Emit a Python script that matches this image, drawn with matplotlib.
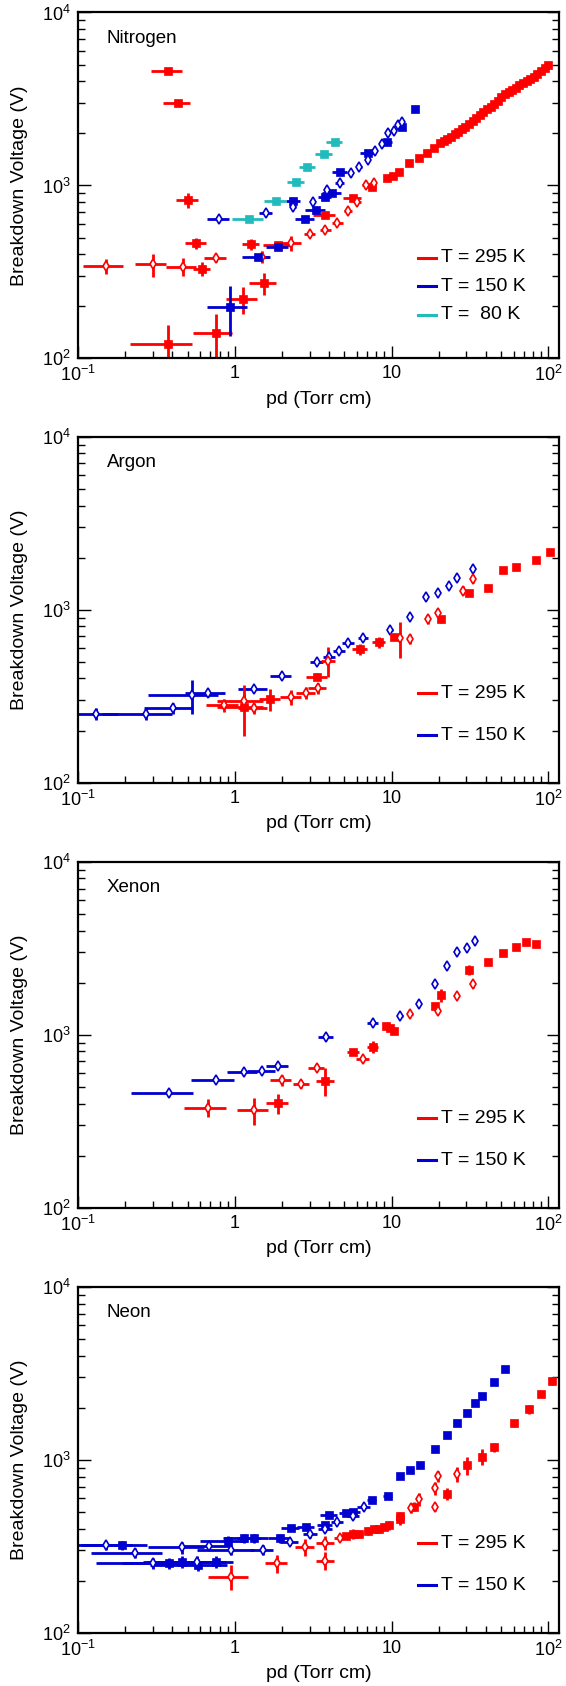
import matplotlib
matplotlib.use("Agg")
import matplotlib.pyplot as plt
from matplotlib.ticker import FixedLocator, FixedFormatter, LogLocator, NullFormatter

plt.rcParams["font.family"] = ["Liberation Sans", "DejaVu Sans"]
plt.rcParams["mathtext.fontset"] = "custom"
plt.rcParams["mathtext.rm"] = "Liberation Sans"
plt.rcParams["mathtext.it"] = "Liberation Sans:italic"
plt.rcParams["mathtext.default"] = "regular"

RED = "#ff0000"
BLUE = "#0000d0"
CYAN = "#22bbbb"

# ---------------- Nitrogen ----------------
n2_295_fill_x = [0.376, 0.435, 0.502, 0.568, 0.62, 0.376, 0.755, 1.136, 1.268, 1.527, 1.888, 3.76, 5.68, 7.48,
                 9.33, 10.2, 11.1, 13.0, 14.9, 16.8, 18.7, 20.4, 21.5, 22.7, 23.9, 25.3, 26.6, 28.1, 29.6,
                 31.2, 32.9, 34.7, 36.6, 38.6, 40.7, 42.9, 45.2, 47.7, 50.2, 53.0, 55.9, 58.9, 62.1,
                 65.5, 69.0, 72.8, 76.8, 80.9, 85.3, 89.9, 94.8, 100.0]
n2_295_fill_y = [4600, 3010, 824, 463, 330, 122, 141, 220, 457, 272, 453, 675, 843, 985,
                 1100, 1140, 1197, 1344, 1436, 1535, 1641, 1754, 1801, 1858, 1917, 1986, 2049, 2123, 2190,
                 2279, 2372, 2469, 2558, 2663, 2759, 2859, 2962, 3097, 3237, 3369, 3491, 3585, 3682,
                 3798, 3900, 4005, 4115, 4264, 4418, 4597, 4807, 4980]
n2_295_fill_ex = [0.085, 0.084, 0.08, 0.083, 0.08, 0.16, 0.21, 0.26, 0.15, 0.3, 0.38, 0.6, 0.75, 0.5,
                  0.4, 0.3, 0.4, 0.4, 0.4] + [0] * 33
n2_295_fill_ey = [40, 100, 80, 35, 30, 35, 40, 40, 35, 40, 15, 25, 35, 20] + [0] * 38

n2_295_open_x = [0.150, 0.299, 0.465, 0.759, 1.50, 2.29, 3.01, 3.79, 4.52, 5.30, 6.06, 6.90, 7.7]
n2_295_open_y = [342, 350, 339, 382, 387, 463, 521, 553, 604, 714, 806, 1002, 1030]
n2_295_open_ex = [0.043, 0.067, 0.1, 0.12, 0.15, 0.35, 0.25, 0.3, 0.35, 0.3, 0.3, 0.4, 0.3]
n2_295_open_ey = [33, 53, 40, 20, 30, 45, 20, 12, 12, 20, 40, 20, 25]

n2_150_fill_x = [0.933, 1.40, 1.888, 2.36, 2.81, 3.29, 3.76, 4.18, 4.69, 7.10, 9.33, 11.6, 14.1]
n2_150_fill_y = [199, 384, 443, 813, 640, 721, 861, 909, 1202, 1549, 1794, 2172, 2760]
n2_150_fill_ex = [0.27, 0.28, 0.3, 0.25, 0.4, 0.5, 0.35, 0.6, 0.5, 0.8, 0.7, 0.3, 0.4]
n2_150_fill_ey = [65, 15, 10, 10, 15, 15, 15, 15, 20, 20, 20, 30, 0]

n2_150_open_x = [0.793, 1.585, 2.36, 3.15, 3.9, 4.69, 5.50, 6.24, 7.10, 7.88, 8.67, 9.5, 10.3, 11.0, 11.7]
n2_150_open_y = [640, 697, 755, 806, 942, 1038, 1175, 1273, 1407, 1592, 1738, 2005, 2076, 2239, 2339]
n2_150_open_ex = [0.13, 0.15, 0.1, 0.1, 0.1, 0.3, 0.2, 0.2, 0.1, 0.1, 0.1, 0.1, 0.1, 0.1, 0.1]
n2_150_open_ey = [10, 15, 20, 25, 25, 20, 20, 20, 30, 20, 20, 20, 20, 20, 20]

n2_80_fill_x = [1.236, 1.836, 2.46, 2.91, 3.72, 4.33]
n2_80_fill_y = [640, 813, 1052, 1285, 1521, 1794]
n2_80_fill_ex = [0.28, 0.3, 0.3, 0.35, 0.45, 0.5]
n2_80_fill_ey = [15, 20, 25, 25, 30, 35]

# ---------------- Argon ----------------
ar_150_open_x = [0.130, 0.270, 0.403, 0.530, 0.673, 1.324, 1.99, 3.33, 4.0, 4.64, 5.30, 6.62, 9.75,
                 13.2, 16.5, 19.7, 23.1, 26.3, 32.9]
ar_150_open_y = [249, 249, 269, 321, 328, 348, 415, 497, 535, 580, 638, 683, 762,
                 912, 1178, 1254, 1377, 1518, 1711]
ar_150_open_ex = [0.05, 0.127, 0.14, 0.25, 0.19, 0.27, 0.3, 0.3, 0.35, 0.4, 0.5, 0.5, 0.4,
                  0, 0, 0, 0, 0, 0]
ar_150_open_ey = [20, 20, 20, 70, 15, 10, 10, 10, 10, 10, 10, 10, 20, 25, 40, 30, 40, 60, 50]

ar_295_open_x = [0.853, 1.141, 1.324, 2.29, 2.85, 3.38, 3.96, 11.3, 13.2, 17.0, 19.9, 28.4, 32.9]
ar_295_open_y = [280, 296, 269, 311, 331, 351, 507, 683, 675, 880, 952, 1288, 1497]
ar_295_open_ex = [0.2, 0.37, 0.27, 0.35, 0.4, 0.45, 0.4, 0, 0, 0, 0, 0, 0]
ar_295_open_ey = [25, 30, 20, 30, 25, 25, 100, 160, 45, 55, 40, 80, 80]

ar_295_fill_x = [1.141, 1.68, 3.35, 6.28, 8.32, 10.4, 20.7, 31.2, 41.3, 51.6, 62.1, 83.2, 102.6]
ar_295_fill_y = [275, 303, 410, 590, 647, 692, 880, 1243, 1328, 1695, 1773, 1937, 2163]
ar_295_fill_ex = [0.37, 0.25, 0.5, 0.7, 0.8, 0.5, 0, 0, 0, 0, 0, 0, 0]
ar_295_fill_ey = [90, 45, 20, 45, 50, 20, 40, 50, 40, 70, 50, 20, 20]

# ---------------- Xenon ----------------
xe_150_open_x = [0.379, 0.759, 1.14, 1.50, 1.888, 3.82, 7.59, 11.3, 15.0, 18.9, 22.7, 26.3, 30.4, 34.2]
xe_150_open_y = [458, 547, 605, 617, 659, 966, 1163, 1288, 1511, 1963, 2506, 3019, 3186, 3494]
xe_150_open_ex = [0.16, 0.23, 0.25, 0.3, 0.3, 0.4, 0.6, 0.5, 0, 0, 0, 0, 0, 0]
xe_150_open_ey = [10, 10, 10, 10, 15, 20, 20, 20, 30, 40, 50, 60, 60, 70]

xe_295_open_x = [0.673, 1.336, 1.99, 2.66, 3.33, 6.54, 13.2, 19.9, 26.3, 32.9]
xe_295_open_y = [378, 367, 547, 519, 644, 723, 1312, 1371, 1680, 1954]
xe_295_open_ex = [0.2, 0.3, 0.3, 0.3, 0.4, 0.6, 0.5, 0, 0, 0]
xe_295_open_ey = [45, 65, 40, 25, 30, 30, 20, 40, 40, 80]

xe_295_fill_x = [1.888, 3.79, 5.68, 7.59, 9.24, 9.84, 10.4, 18.9, 20.7, 31.2, 41.3, 51.6, 62.1, 71.9, 83.2]
xe_295_fill_y = [401, 540, 797, 853, 1122, 1089, 1050, 1465, 1695, 2366, 2642, 2951, 3197, 3417, 3343]
xe_295_fill_ex = [0.3, 0.5, 0.5, 0.6, 0.3, 0.3, 0.3, 0, 0, 0, 0, 0, 0, 0, 0]
xe_295_fill_ey = [55, 100, 20, 70, 30, 30, 30, 60, 140, 150, 70, 70, 90, 80, 80]

# ---------------- Neon ----------------
ne_150_open_x = [0.150, 0.231, 0.301, 0.459, 0.574, 0.690, 0.948, 1.51, 2.25, 3.04, 3.79, 4.52, 5.7, 6.66]
ne_150_open_y = [321, 290, 252, 311, 257, 319, 301, 301, 336, 370, 396, 438, 472, 535]
ne_150_open_ex = [0.07, 0.11, 0.17, 0.18, 0.3, 0.25, 0.37, 0.25, 0.3, 0.3, 0.4, 0.4, 0.5, 0.6]
ne_150_open_ey = [20, 20, 20, 25, 20, 20, 20, 20, 15, 15, 15, 15, 15, 15]

ne_150_fill_x = [0.190, 0.382, 0.459, 0.586, 0.759, 0.900, 1.14, 1.336, 1.94, 2.27, 2.85, 3.76, 4.0, 5.11,
                 5.68, 7.48, 9.48, 11.3, 13.2, 15.1, 18.9, 22.7, 26.3, 30.4, 34.2, 37.6, 45.2, 53.0]
ne_150_fill_y = [321, 252, 257, 246, 257, 340, 351, 351, 351, 401, 410, 419, 479, 490,
                 500, 585, 620, 805, 871, 931, 1148, 1389, 1622, 1871, 2117, 2344, 2825, 3327]
ne_150_fill_ex = [0.085, 0.19, 0.2, 0.3, 0.22, 0.3, 0.3, 0.3, 0.3, 0.3, 0.35, 0.4, 0.5, 0.5,
                  0.6, 0.5, 0.6, 0.5, 0.5, 0.6, 0, 0, 0, 0, 0, 0, 0, 0]
ne_150_fill_ey = [20, 20, 20, 20, 20, 20, 20, 20, 20, 15, 15, 15, 15, 15,
                  15, 15, 20, 20, 20, 20, 0, 0, 0, 0, 0, 0, 0, 30]

ne_295_open_x = [0.948, 1.866, 2.81, 3.79, 3.79, 4.72, 13.4, 14.9, 18.9, 18.9, 19.9, 26.3]
ne_295_open_y = [211, 252, 311, 331, 261, 354, 523, 590, 535, 683, 805, 826]
ne_295_open_ex = [0.27, 0.3, 0.4, 0.5, 0.5, 0.4, 0.5, 0.5, 0, 0, 0, 0]
ne_295_open_ey = [35, 30, 35, 30, 30, 15, 30, 50, 30, 60, 60, 80]

ne_295_fill_x = [5.11, 5.68, 6.21, 7.10, 7.7, 8.3, 9.0, 9.6, 11.3, 11.3, 13.9, 22.7, 30.4, 37.6, 45.2,
                 60.5, 75.5, 89.9, 105.0]
ne_295_fill_y = [362, 372, 372, 389, 396, 396, 410, 419, 452, 472, 536, 634, 931, 1040, 1178,
                 1622, 1963, 2387, 2864]
ne_295_fill_ex = [0.4, 0.4, 0.4, 0.4, 0.4, 0.4, 0.4, 0.4, 0.5, 0.5, 0.5, 0, 0, 0, 0, 0, 0, 0, 0]
ne_295_fill_ey = [15, 25, 20, 20, 20, 20, 20, 25, 30, 30, 30, 50, 110, 110, 70, 80, 120, 80, 150]

x_ticks = [0.1, 1, 10, 100]
x_tick_labels = ["$10^{-1}$", "1", "10", "$10^{2}$"]
y_ticks = [100, 1000, 10000]
y_tick_labels = ["$10^{2}$", "$10^{3}$", "$10^{4}$"]


def draw_set(ax, x, y, ex, ey, color, hollow):
    if hollow:
        style = dict(marker="d", ms=5.0, mfc="white", mec=color, mew=1.2)
    else:
        style = dict(marker="s", ms=5.8, mfc=color, mec=color, mew=0.5)
    ax.errorbar(x, y, xerr=ex, yerr=ey, fmt="none", ecolor=color, elinewidth=2.0,
                capsize=0, zorder=2)
    ax.plot(x, y, ls="none", zorder=3, **style)


def setup_axes(ax, name, legend):
    ax.set_xscale("log")
    ax.set_yscale("log")
    ax.set_xlim(0.1, 117)
    ax.set_ylim(100, 10000)
    ax.xaxis.set_major_locator(FixedLocator(x_ticks))
    ax.xaxis.set_major_formatter(FixedFormatter(x_tick_labels))
    ax.yaxis.set_major_locator(FixedLocator(y_ticks))
    ax.yaxis.set_major_formatter(FixedFormatter(y_tick_labels))
    ax.xaxis.set_minor_locator(LogLocator(base=10, subs=range(2, 10)))
    ax.yaxis.set_minor_locator(LogLocator(base=10, subs=range(2, 10)))
    ax.xaxis.set_minor_formatter(NullFormatter())
    ax.yaxis.set_minor_formatter(NullFormatter())
    ax.tick_params(which="both", direction="in", top=False, right=True, labelsize=13, width=1.0)
    ax.tick_params(which="major", length=9, pad=5)
    ax.tick_params(which="minor", length=5)
    for sp in ax.spines.values():
        sp.set_linewidth(1.6)
    ax.set_xlabel("pd (Torr cm)", fontsize=14, va="center")
    ax.xaxis.set_label_coords(0.5, -0.118)
    ax.set_ylabel("Breakdown Voltage (V)", fontsize=14, va="center")
    ax.yaxis.set_label_coords(-0.121, 0.5)
    ax.text(0.06, 0.925, name, transform=ax.transAxes, fontsize=13.5, va="center", ha="left")
    for (label, color), ypos in zip(legend, [0.291, 0.208, 0.127] if len(legend) == 3 else [0.258, 0.137]):
        ax.plot([0.707, 0.745], [ypos, ypos], color=color, lw=2.2, transform=ax.transAxes,
                clip_on=False)
        ax.text(0.755, ypos, label, transform=ax.transAxes, fontsize=14, va="center", ha="left")


fig = plt.figure(figsize=(5.66, 16.86), dpi=100)
left, width, height = 0.1378, 0.8498, 0.2052
bottoms = [0.7874, 0.5358, 0.2837, 0.0316]
axes = [fig.add_axes([left, b, width, height]) for b in bottoms]

ax = axes[0]
draw_set(ax, n2_295_fill_x, n2_295_fill_y, n2_295_fill_ex, n2_295_fill_ey, RED, False)
draw_set(ax, n2_295_open_x, n2_295_open_y, n2_295_open_ex, n2_295_open_ey, RED, True)
draw_set(ax, n2_150_fill_x, n2_150_fill_y, n2_150_fill_ex, n2_150_fill_ey, BLUE, False)
draw_set(ax, n2_150_open_x, n2_150_open_y, n2_150_open_ex, n2_150_open_ey, BLUE, True)
draw_set(ax, n2_80_fill_x, n2_80_fill_y, n2_80_fill_ex, n2_80_fill_ey, CYAN, False)
setup_axes(ax, "Nitrogen", [("T = 295 K", RED), ("T = 150 K", BLUE), ("T =  80 K", CYAN)])

ax = axes[1]
draw_set(ax, ar_150_open_x, ar_150_open_y, ar_150_open_ex, ar_150_open_ey, BLUE, True)
draw_set(ax, ar_295_fill_x, ar_295_fill_y, ar_295_fill_ex, ar_295_fill_ey, RED, False)
draw_set(ax, ar_295_open_x, ar_295_open_y, ar_295_open_ex, ar_295_open_ey, RED, True)
setup_axes(ax, "Argon", [("T = 295 K", RED), ("T = 150 K", BLUE)])

ax = axes[2]
draw_set(ax, xe_150_open_x, xe_150_open_y, xe_150_open_ex, xe_150_open_ey, BLUE, True)
draw_set(ax, xe_295_fill_x, xe_295_fill_y, xe_295_fill_ex, xe_295_fill_ey, RED, False)
draw_set(ax, xe_295_open_x, xe_295_open_y, xe_295_open_ex, xe_295_open_ey, RED, True)
setup_axes(ax, "Xenon", [("T = 295 K", RED), ("T = 150 K", BLUE)])

ax = axes[3]
draw_set(ax, ne_150_fill_x, ne_150_fill_y, ne_150_fill_ex, ne_150_fill_ey, BLUE, False)
draw_set(ax, ne_150_open_x, ne_150_open_y, ne_150_open_ex, ne_150_open_ey, BLUE, True)
draw_set(ax, ne_295_fill_x, ne_295_fill_y, ne_295_fill_ex, ne_295_fill_ey, RED, False)
draw_set(ax, ne_295_open_x, ne_295_open_y, ne_295_open_ex, ne_295_open_ey, RED, True)
setup_axes(ax, "Neon", [("T = 295 K", RED), ("T = 150 K", BLUE)])

fig.savefig("out.png", dpi=100)
